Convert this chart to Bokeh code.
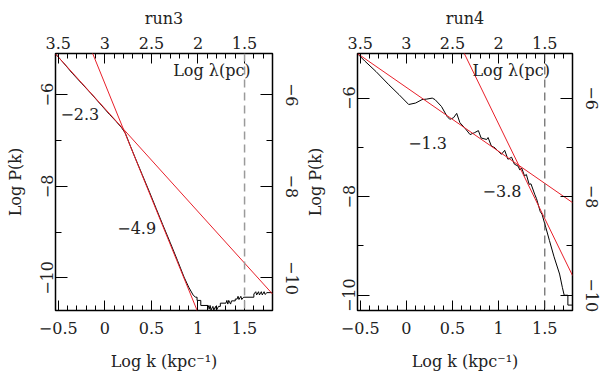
from bokeh.plotting import figure
from bokeh.layouts import row
from bokeh.models import (LinearAxis, FixedTicker, CustomJSTickFormatter, Label,
                          Span, Range1d)
from bokeh.embed import file_html
from bokeh.resources import INLINE

# ---------------- data ----------------
x_ticks = [-0.5, 0.0, 0.5, 1.0, 1.5]
x_tick_labels = ["\u22120.5", "0", "0.5", "1", "1.5"]
lam_tick_labels = ["3.5", "3", "2.5", "2", "1.5"]
x_minor = [-0.5, -0.4, -0.3, -0.2, -0.1, 0.0, 0.1, 0.2, 0.3, 0.4, 0.5, 0.6,
           0.7, 0.8, 0.9, 1.0, 1.1, 1.2, 1.3, 1.4, 1.5, 1.6, 1.7, 1.8]
y_ticks = [-10, -8, -6]
y_tick_labels = ["\u221210", "\u22128", "\u22126"]
y_minor = [-11, -10, -9, -8, -7, -6, -5]

# run3 spectrum
k3 = [-0.53, -0.45, -0.35, -0.25, -0.15, -0.05, 0.05, 0.12, 0.18, 0.22, 0.27,
      0.33, 0.40, 0.48, 0.55, 0.62, 0.70, 0.78, 0.85, 0.90, 0.95, 0.975, 0.99,
      0.99, 1.03, 1.03, 1.11, 1.12, 1.13, 1.14, 1.16, 1.17, 1.19, 1.20, 1.22,
      1.24, 1.24, 1.30, 1.31, 1.32, 1.33, 1.35, 1.36, 1.40, 1.40, 1.42, 1.43,
      1.44, 1.46, 1.47, 1.49, 1.60, 1.60, 1.62, 1.63, 1.65, 1.66, 1.68, 1.69,
      1.71, 1.72, 1.74, 1.80]
p3 = [-5.11, -5.29, -5.53, -5.75, -5.97, -6.20, -6.43, -6.58, -6.72, -6.84, -7.10,
      -7.40, -7.74, -8.13, -8.48, -8.83, -9.22, -9.62, -9.98, -10.20, -10.38, -10.42, -10.42,
      -10.49, -10.49, -10.60, -10.60, -10.68, -10.60, -10.70, -10.62, -10.70, -10.62, -10.70, -10.62,
      -10.62, -10.55, -10.55, -10.49, -10.57, -10.49, -10.57, -10.50, -10.50, -10.46, -10.46, -10.40,
      -10.47, -10.40, -10.47, -10.42, -10.42, -10.35, -10.30, -10.37, -10.30, -10.37, -10.30, -10.37,
      -10.30, -10.36, -10.32, -10.32]
fit3a_k = [-0.53, 1.80]
fit3a_p = [-5.11, -10.35]
fit3b_k = [-0.15, 1.00]
fit3b_p = [-5.005, -10.755]
slope3 = ["\u22122.3", "\u22124.9"]

# run4 spectrum
k4 = [-0.53, -0.45, -0.33, -0.19, -0.08, 0.025, 0.10, 0.17, 0.22, 0.28, 0.31,
      0.38, 0.44, 0.47, 0.51, 0.545, 0.58, 0.63, 0.69, 0.74, 0.78, 0.81, 0.87,
      0.885, 0.92, 0.96, 0.99, 1.03, 1.065, 1.10, 1.14, 1.17, 1.21, 1.23, 1.25,
      1.28, 1.30, 1.33, 1.35, 1.39, 1.41, 1.45, 1.47, 1.51, 1.55, 1.60, 1.66,
      1.69, 1.71, 1.75, 1.75, 1.80]
p4 = [-5.10, -5.25, -5.46, -5.73, -5.93, -6.13, -6.10, -6.03, -6.02, -6.00, -6.03,
      -6.17, -6.37, -6.43, -6.40, -6.31, -6.50, -6.60, -6.74, -6.70, -6.66, -6.81, -6.84,
      -6.80, -6.97, -7.01, -7.07, -7.14, -7.06, -7.24, -7.20, -7.34, -7.38, -7.46, -7.42,
      -7.58, -7.55, -7.75, -7.74, -7.95, -8.04, -8.30, -8.36, -8.62, -8.89, -9.22, -9.57,
      -9.84, -10.00, -10.00, -10.20, -10.20]
fit4a_k = [-0.53, 1.80]
fit4a_p = [-5.095, -8.12]
fit4b_k = [0.60, 1.80]
fit4b_p = [-4.99, -9.60]
slope4 = ["\u22121.3", "\u22123.8"]

dash_k = 1.5

FONT = "DejaVu Serif"
FS = "16px"
RED = "#e8202a"


def fmt(tv, tl):
    return CustomJSTickFormatter(args=dict(tv=tv, tl=tl), code="""
        for (let i = 0; i < tv.length; i++) {
            if (Math.abs(tv[i] - tick) < 1e-9) return tl[i];
        }
        return "";
    """)


def style_axis(ax, major_in, minor_in):
    ax.major_tick_in = major_in
    ax.major_tick_out = 0
    ax.minor_tick_in = minor_in
    ax.minor_tick_out = 0
    ax.axis_line_color = None
    ax.major_tick_line_color = "black"
    ax.minor_tick_line_color = "black"
    ax.major_label_text_font = FONT
    ax.major_label_text_font_size = FS
    ax.major_label_text_color = "#222222"
    ax.axis_label_text_font = FONT
    ax.axis_label_text_font_size = FS
    ax.axis_label_text_font_style = "normal"
    ax.axis_label_text_color = "#222222"


def panel(title, k, p, fa_k, fa_p, fb_k, fb_p, y0, y1, width, bl, br,
          ylab_standoff, dash_color, dash_width, labels):
    fig = figure(width=width, height=374, output_backend="svg",
                 toolbar_location=None,
                 x_range=Range1d(-0.53, 1.80), y_range=Range1d(y0, y1),
                 x_axis_location=None, y_axis_location=None,
                 min_border_left=bl, min_border_right=br,
                 min_border_top=52, min_border_bottom=64)
    fig.title.text = title
    fig.title.align = "center"
    fig.title.text_font = FONT
    fig.title.text_font_size = FS
    fig.title.text_font_style = "normal"
    fig.title.text_color = "#222222"
    fig.title.standoff = 12
    fig.grid.visible = False
    fig.outline_line_color = "black"
    fig.outline_line_width = 1.5
    fig.background_fill_color = "white"
    fig.border_fill_color = "white"

    xt = FixedTicker(ticks=x_ticks, minor_ticks=x_minor)
    yt = FixedTicker(ticks=y_ticks, minor_ticks=y_minor)

    bottom = LinearAxis(ticker=xt, formatter=fmt(x_ticks, x_tick_labels),
                        axis_label="Log k (kpc\u207b\u00b9)")
    style_axis(bottom, 10, 5)
    bottom.major_label_standoff = 11
    bottom.axis_label_standoff = 15
    fig.add_layout(bottom, "below")

    top = LinearAxis(ticker=xt, formatter=fmt(x_ticks, lam_tick_labels))
    style_axis(top, 10, 5)
    top.major_label_standoff = 5
    fig.add_layout(top, "above")

    left = LinearAxis(ticker=yt, formatter=fmt(y_ticks, y_tick_labels),
                      axis_label="Log P(k)")
    style_axis(left, 12, 6)
    left.major_label_orientation = "vertical"
    left.major_label_standoff = 2
    left.axis_label_standoff = ylab_standoff
    fig.add_layout(left, "left")

    right = LinearAxis(ticker=yt, formatter=fmt(y_ticks, y_tick_labels))
    style_axis(right, 12, 6)
    right.major_label_orientation = "vertical"
    right.major_label_standoff = 13
    right.major_label_text_line_height = 0.75
    fig.add_layout(right, "right")

    fig.add_layout(Span(location=dash_k, dimension="height",
                        line_color=dash_color, line_width=dash_width,
                        line_dash="8 5"))
    fig.line(k, p, line_color="black", line_width=1)
    fig.line(fa_k, fa_p, line_color=RED, line_width=1)
    fig.line(fb_k, fb_p, line_color=RED, line_width=1)

    for (x, y, t, align) in labels:
        fig.add_layout(Label(x=x, y=y, text=t, text_align=align,
                             text_baseline="middle", text_font=FONT,
                             text_font_size=FS, text_color="#222222"))
    return fig


p1 = panel("run3", k3, p3, fit3a_k, fit3a_p, fit3b_k, fit3b_p,
           -10.71, -5.10, 300, 55, 28, 14, "#9a9a9a", 1.5,
           [(-0.06, -6.41, slope3[0], "right"),
            (0.55, -8.91, slope3[1], "right"),
            (1.565, -5.48, "Log \u03bb(pc)", "right")])
p2 = panel("run4", k4, p4, fit4a_k, fit4a_p, fit4b_k, fit4b_p,
           -10.31, -5.095, 300, 57, 27, 16, "#444444", 1.0,
           [(0.44, -6.92, slope4[0], "right"),
            (1.247, -7.88, slope4[1], "right"),
            (1.555, -5.45, "Log \u03bb(pc)", "right")])

layout = row(p1, p2)
open("out.html", "w").write(file_html(layout, INLINE))
